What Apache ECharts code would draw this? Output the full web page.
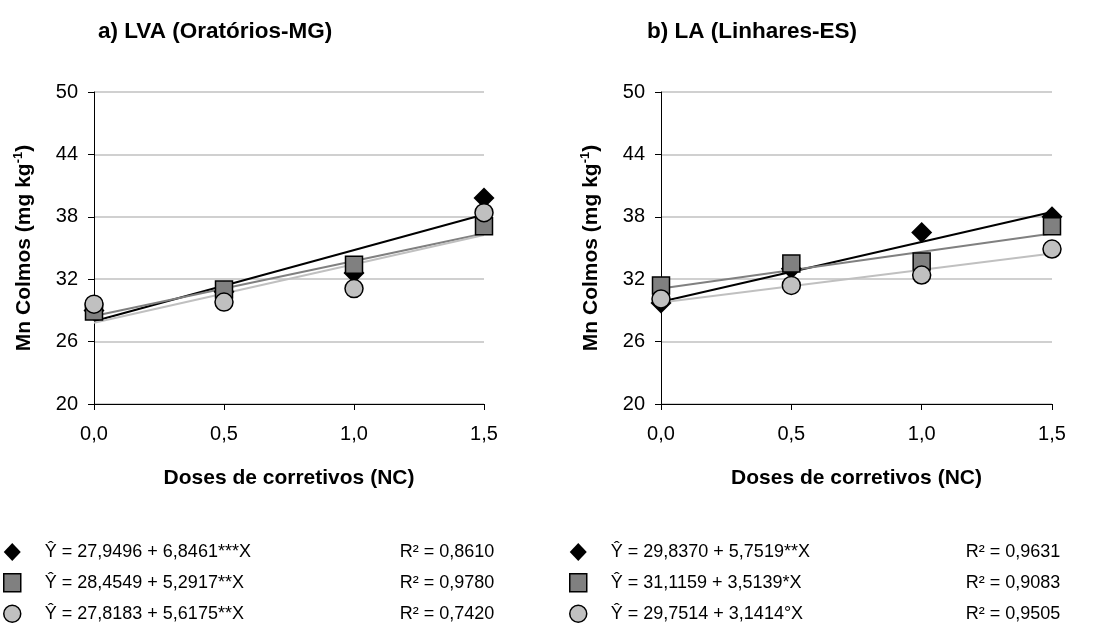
<!DOCTYPE html>
<html><head><meta charset="utf-8">
<script src="https://cdn.jsdelivr.net/npm/echarts/dist/echarts.min.js"></script>
<style>html,body{margin:0;padding:0;background:#fff}#c{width:1103px;height:630px}</style>
</head><body><div id="c"></div>
<script>
// ---- data ----
const doses = [0, 0.5, 1.0, 1.5];
const xTickLabels = {0: '0,0', 0.5: '0,5', 1: '1,0', 1.5: '1,5'};
const titles = ['a) LVA (Oratórios-MG)', 'b) LA (Linhares-ES)'];
const yName = 'Mn Colmos (mg kg';
const xName = 'Doses de corretivos (NC)';

// a) LVA (Oratórios-MG)
const aDiamond = [29.0, 30.8, 32.6, 39.8];
const aSquare  = [28.9, 31.0, 33.4, 37.1];
const aCircle  = [29.6, 29.8, 31.1, 38.4];
const aIntercepts = [27.9496, 28.4549, 27.8183];
const aSlopes     = [6.8461, 5.2917, 5.6175];
const aEquations = ['Ŷ = 27,9496 + 6,8461***X', 'Ŷ = 28,4549 + 5,2917**X', 'Ŷ = 27,8183 + 5,6175**X'];
const aR2 = ['0,8610', '0,9780', '0,7420'];

// b) LA (Linhares-ES)
const bDiamond = [29.7, 33.0, 36.5, 38.0];
const bSquare  = [31.4, 33.5, 33.7, 37.1];
const bCircle  = [30.1, 31.4, 32.4, 34.9];
const bIntercepts = [29.8370, 31.1159, 29.7514];
const bSlopes     = [5.7519, 3.5139, 3.1414];
const bEquations = ['Ŷ = 29,8370 + 5,7519**X', 'Ŷ = 31,1159 + 3,5139*X', 'Ŷ = 29,7514 + 3,1414°X'];
const bR2 = ['0,9631', '0,9083', '0,9505'];

// ---- styles ----
const FONT = 'Liberation Sans, Arial, sans-serif';
const markers = [
  {symbol: 'diamond', size: 21, color: '#000000', line: '#000000'},
  {symbol: 'rect', size: 17, color: '#808080', line: '#808080'},
  {symbol: 'circle', size: 18, color: '#C0C0C0', line: '#C0C0C0'}
];
const grids = [
  {left: 94, top: 92, width: 390, height: 312},
  {left: 661, top: 92, width: 391, height: 312}
];

function pairs(vals) { return doses.map((d, i) => [d, vals[i]]); }
function fitLine(b0, b1) { return [[doses[0], b0 + b1 * doses[0]], [doses[doses.length - 1], b0 + b1 * doses[doses.length - 1]]]; }

const panels = [
  {vals: [aDiamond, aSquare, aCircle], b0: aIntercepts, b1: aSlopes, eq: aEquations, r2: aR2},
  {vals: [bDiamond, bSquare, bCircle], b0: bIntercepts, b1: bSlopes, eq: bEquations, r2: bR2}
];

const series = [];
const xAxes = [], yAxes = [], legends = [];
panels.forEach((p, gi) => {
  xAxes.push({
    type: 'value', gridIndex: gi, min: 0, max: 1.5, interval: 0.5,
    name: xName, nameLocation: 'middle', nameGap: 64,
    nameTextStyle: {fontFamily: FONT, fontWeight: 'bold', fontSize: 21, color: '#000'},
    axisLine: {show: true, onZero: false, lineStyle: {color: '#000', width: 1}},
    axisTick: {show: true, inside: false, length: 6, lineStyle: {color: '#000'}},
    axisLabel: {fontFamily: FONT, fontSize: 20, color: '#000', margin: 20, formatter: v => xTickLabels[v]},
    splitLine: {show: false}
  });
  yAxes.push({
    type: 'value', gridIndex: gi, min: 20, max: 50, interval: 6,
    name: '{b|' + yName + '}{s|-1}{b|)}', nameLocation: 'middle', nameGap: 58,
    nameTextStyle: {fontFamily: FONT, fontWeight: 'bold', fontSize: 21, color: '#000',
      rich: {
        b: {fontFamily: FONT, fontWeight: 'bold', fontSize: 21, lineHeight: 24, color: '#000'},
        s: {fontFamily: FONT, fontWeight: 'bold', fontSize: 13, lineHeight: 13, verticalAlign: 'top', color: '#000'}
      }},
    axisLine: {show: true, lineStyle: {color: '#000', width: 1}},
    axisTick: {show: true, inside: false, length: 6, lineStyle: {color: '#000'}},
    axisLabel: {fontFamily: FONT, fontSize: 20, color: '#000', margin: 16},
    splitLine: {show: true, lineStyle: {color: '#C0C0C0', width: 1.5}}
  });
  markers.forEach((m, si) => {
    series.push({
      type: 'line', xAxisIndex: gi, yAxisIndex: gi, name: 'fit' + gi + si,
      data: fitLine(p.b0[si], p.b1[si]), symbol: 'none', z: 2, silent: true,
      lineStyle: {color: m.line, width: 2}
    });
  });
  markers.forEach((m, si) => {
    series.push({
      type: 'scatter', xAxisIndex: gi, yAxisIndex: gi, name: p.eq[si],
      data: pairs(p.vals[si]), symbol: m.symbol, symbolSize: m.size, z: 3 + si,
      itemStyle: {color: m.color, borderColor: '#000', borderWidth: si === 0 ? 0 : 1.5, opacity: 1}
    });
  });
  const r2map = {};
  p.eq.forEach((e, i) => r2map[e] = p.r2[i]);
  legends.push({
    orient: 'vertical', left: gi === 0 ? 3 : 569, top: 543,
    itemWidth: 17, itemHeight: 18, itemGap: 12, padding: 0,
    selectedMode: false,
    data: p.eq.map((e, i) => ({name: e, icon: markers[i].symbol,
      itemStyle: {color: markers[i].color, borderColor: '#000', borderWidth: i === 0 ? 0 : 1.5}})),
    formatter: name => '{e|' + name + '}{r|R² = ' + r2map[name] + '}',
    textStyle: {fontFamily: FONT, fontSize: 18, color: '#000',
      rich: {
        e: {fontFamily: FONT, fontSize: 18, color: '#000', width: 355, padding: [0, 0, 0, 19], lineHeight: 18},
        r: {fontFamily: FONT, fontSize: 18, color: '#000', lineHeight: 18}
      }}
  });
});

const chart = echarts.init(document.getElementById('c'), null, {renderer: 'canvas'});
chart.setOption({
  backgroundColor: '#fff',
  animation: false,
  title: [
    {text: titles[0], left: 98, top: 20, padding: 0, textStyle: {fontFamily: FONT, fontWeight: 'bold', fontSize: 22.5, color: '#000'}},
    {text: titles[1], left: 647, top: 20, padding: 0, textStyle: {fontFamily: FONT, fontWeight: 'bold', fontSize: 22.5, color: '#000'}}
  ],
  grid: grids,
  xAxis: xAxes,
  yAxis: yAxes,
  legend: legends,
  series: series
});
</script>
</body></html>
